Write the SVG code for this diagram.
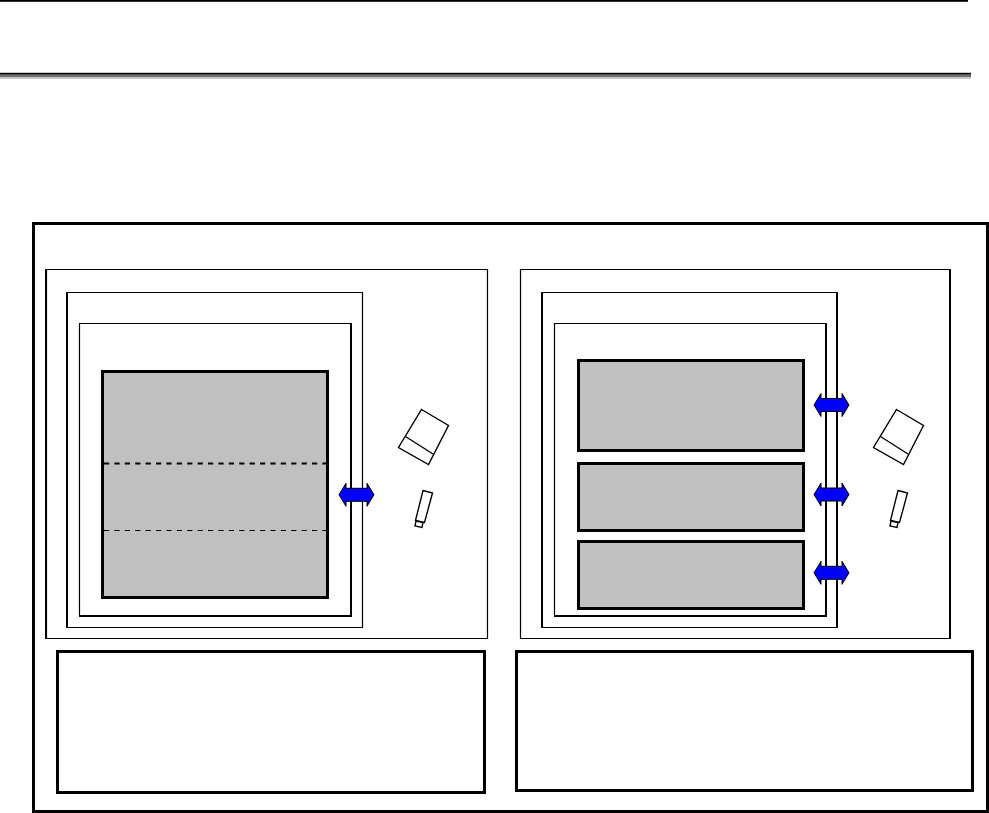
<svg xmlns="http://www.w3.org/2000/svg" width="989" height="813" viewBox="0 0 989 813">
<style>
.t1{fill:none;stroke:#000;stroke-width:1.2}
.t2{fill:none;stroke:#000;stroke-width:2}
.t3{fill:none;stroke:#000;stroke-width:3}
.g{fill:#c0c0c0;stroke:#000;stroke-width:3}
.w{fill:#fff;stroke:#000;stroke-width:1.400}
.a{fill:#0000ff;stroke:#000;stroke-width:1}
.d{fill:none;stroke:#000;stroke-dasharray:5.200 5.200}
</style>
<defs>
<path id="arrow" class="a" d="M-17.500 0L-10.500 -11.500V-6.500H10.500V-11.500L17.500 0L10.500 11.500V6.500H-10.500V11.500Z"/>
<g id="devices">
<path class="w" d="M421.500 409.500L448.500 425.500L428.500 464.500L398.500 447.500Z"/>
<path class="w" d="M405.500 436.500L433 454"/>
<path class="w" d="M423 490.500L432.500 493L424.500 522.500L415.500 520.500Z"/>
<path class="w" d="M416 521L423 522.500L422 527.500L415 526Z"/>
</g>
</defs>
<g id="header">
<rect x="0" y="0" width="968" height="1.800" fill="#000"/>
<rect x="0" y="72.800" width="971" height="1.900" fill="#000"/>
<rect x="0" y="74.700" width="971" height="2.600" fill="#6e6e6e"/>
<rect x="0" y="77.300" width="971" height="1.700" fill="#c8c8c8"/>
</g>
<g id="outer"><rect class="t3" x="33.500" y="223.500" width="954" height="588"/></g>
<g id="panel-left">
<path class="t1" d="M46.500 269.500H487.500V638.500H46.500Z"/>
<path class="t2" d="M46 269V639"/>
<path class="t1" d="M67 292.500H362.500V627.500H67"/>
<path class="t2" d="M67 292V628"/>
<path class="t1" d="M351 323.500H79.500V615"/>
<path class="t2" d="M351 323V616H79"/>
<rect class="g" x="102.500" y="371.500" width="225" height="226"/>
<path class="d" stroke-width="2" d="M104 463.500H326"/>
<path class="d" stroke-width="1" d="M104 530.500H326"/>
<use href="#devices"/>
</g>
<g id="panel-right">
<path class="t1" d="M950 269.500H520.500V638.500H950"/>
<path class="t2" d="M950 269V639"/>
<path class="t1" d="M837 292.500H542M837 627.500H542"/>
<path class="t2" d="M542 292V628M837 292V628"/>
<path class="t1" d="M826 323.500H554.500V615"/>
<path class="t2" d="M826 323V616H554"/>
<rect class="g" x="578.500" y="360.500" width="225" height="90"/>
<rect class="g" x="578.500" y="463.500" width="225" height="67"/>
<rect class="g" x="578.500" y="541.500" width="225" height="67"/>
<use href="#devices" x="475"/>
</g>
<g id="note-left"><rect class="t3" x="57.500" y="651.500" width="427" height="141"/></g>
<g id="note-right"><rect class="t3" x="516.500" y="651.500" width="456" height="139"/></g>
<g id="connectors">
<use href="#arrow" x="356.500" y="494.800"/>
<use href="#arrow" x="831.500" y="405"/>
<use href="#arrow" x="831.500" y="494.500"/>
<use href="#arrow" x="831.500" y="572.800"/>
</g>
</svg>
